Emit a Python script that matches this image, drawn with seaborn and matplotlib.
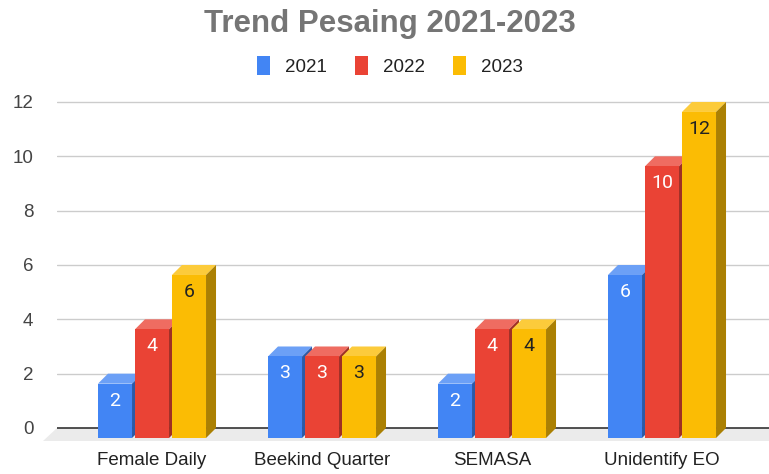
import numpy as np
import pandas as pd
import matplotlib
matplotlib.use('Agg')
import matplotlib.pyplot as plt
import matplotlib.colors as mcolors
from matplotlib.patches import Polygon, Patch
import seaborn as sns

sns.set_style('white')
plt.rcParams['font.family'] = ['Liberation Sans', 'DejaVu Sans']

categories = ['Female Daily', 'Beekind Quarter', 'SEMASA', 'Unidentify EO']
years = ['2021', '2022', '2023']
v2021 = [2, 3, 2, 6]
v2022 = [4, 3, 4, 10]
v2023 = [6, 3, 4, 12]
colors = ['#4285F4', '#EA4335', '#FBBC04']
label_colors = ['white', 'white', '#222222']
y_ticks = [0, 2, 4, 6, 8, 10, 12]

df = pd.DataFrame({
    'Kompetitor': categories * 3,
    'Jumlah': v2021 + v2022 + v2023,
    'Tahun': [y for y in years for _ in categories],
})

fig = plt.figure(figsize=(7.69, 4.74), dpi=100)
# axes placed in pixels: x 57..769, y 95..446
ax = fig.add_axes([57 / 769, 1 - 446 / 474, 712 / 769, 351 / 474])

sns.barplot(data=df, x='Kompetitor', y='Jumlah', hue='Tahun', palette=colors,
            width=0.653, gap=0.08, saturation=1, legend=False, ax=ax, zorder=3)

px_x = 170.0   # pixels per category
px_y = 27.17   # pixels per unit
ddx = 10 / px_x
ddy = 10 / px_y
ax.set_xlim((57 - 162) / px_x, (769 - 162) / px_x)
ax.set_ylim((428 - 446) / px_y, (428 - 95) / px_y)

# 3d look: shift front face, add top and side faces
for i, cont in enumerate(ax.containers):
    base = mcolors.to_rgb(colors[i])
    top_c = tuple(c + (1 - c) * 0.22 for c in base)
    side_c = tuple(c * 0.68 for c in base)
    for bar in cont:
        x, w, h = bar.get_x(), bar.get_width(), bar.get_height()
        bar.set_xy((x - ddx, -ddy))
        bar.set_linewidth(0)
        ax.add_patch(Polygon([(x - ddx, h - ddy), (x, h), (x + w, h), (x + w - ddx, h - ddy)],
                             closed=True, facecolor=top_c, edgecolor='none', zorder=2))
        ax.add_patch(Polygon([(x + w - ddx, -ddy), (x + w, 0), (x + w, h), (x + w - ddx, h - ddy)],
                             closed=True, facecolor=side_c, edgecolor='none', zorder=2))
        ax.text(x - ddx + w / 2, h - ddy - 17 / px_y, '{0:g}'.format(h), ha='center', va='center',
                color=label_colors[i], fontsize=14, family=['Roboto', 'DejaVu Sans'], zorder=4)

# gridlines and floor
for t in y_ticks[1:]:
    ax.axhline(t, color='#cccccc', lw=1, zorder=0)
x0, x1 = ax.get_xlim()
fdx, fdy = 14 / px_x, 13 / px_y
ax.add_patch(Polygon([(x0, 0), (x1 + fdx, 0), (x1, -fdy), (x0 - fdx, -fdy)], closed=True,
                     facecolor='#ebebeb', edgecolor='none', zorder=1, clip_on=False))
ax.axhline(0, color='#333333', lw=1.2, zorder=1.5)

ax.set_yticks(y_ticks)
ax.set_yticklabels([str(t) for t in y_ticks])
ax.set_xticks(np.arange(len(categories)) - ddx)
ax.set_xticklabels(categories)
ax.tick_params(axis='y', length=0, pad=17, labelsize=13.5, labelcolor='#444444')
ax.tick_params(axis='x', length=0, pad=4, labelsize=13.5, labelcolor='#222222')
ax.set_xlabel('')
ax.set_ylabel('')
for s in ax.spines.values():
    s.set_visible(False)

fig.text(390 / 769, 1 - 32 / 474, 'Trend Pesaing 2021-2023', ha='center', va='baseline',
         fontsize=22.5, fontweight='bold', color='#757575')

handles = [Patch(facecolor=c, edgecolor='none') for c in colors]
fig.legend(handles, years, loc='center', bbox_to_anchor=(390 / 769, 1 - 66 / 474), ncol=3,
           frameon=False, fontsize=13.5, handlelength=0.7, handleheight=1.2,
           handletextpad=0.8, columnspacing=1.5, labelcolor='#222222')

fig.savefig('out.png', dpi=100)
